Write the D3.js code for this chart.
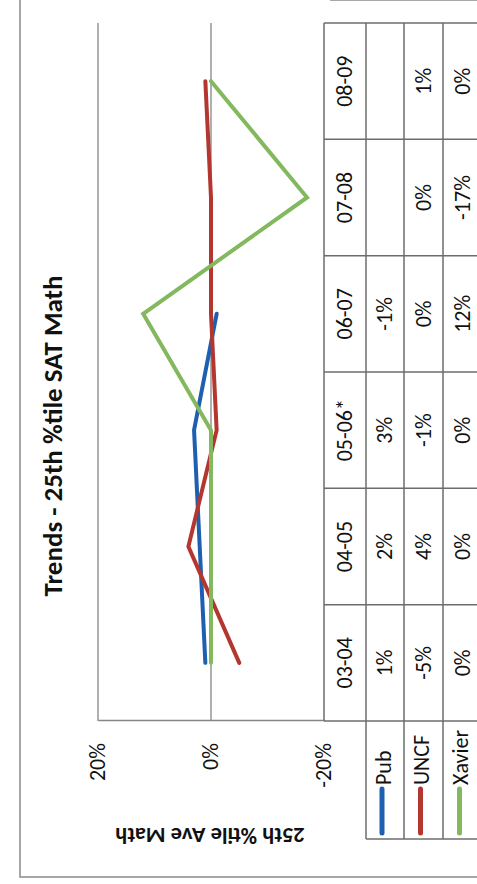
<!DOCTYPE html>
<html>
<head>
<meta charset="utf-8">
<script src="https://cdn.jsdelivr.net/npm/d3@7"></script>
<style>
  html, body { margin: 0; padding: 0; background: #fff; }
  svg { display: block; }
  text { font-family: Carlito, Lato, "Liberation Sans", sans-serif; fill: #111; }
</style>
</head>
<body>
<div id="chart"></div>
<script>
// ---------- data ----------
const categories = ["03-04", "04-05", "05-06*", "06-07", "07-08", "08-09"];
const seriesNames = ["Pub", "UNCF", "Xavier"];
const pubValues = [1, 2, 3, -1, null, null];
const uncfValues = [-5, 4, -1, 0, 0, 1];
const xavierValues = [0, 0, 0, 12, -17, 0];
const seriesColors = ["#1f5fb0", "#b3372f", "#84b85e"];
const tickValues = [-20, 0, 20];
const titleText = "Trends - 25th %tile SAT Math";
const axisTitleText = "25th %tile Ave Math";

const seriesValues = [pubValues, uncfValues, xavierValues];

// ---------- canvas (chart drawn in its own orientation, then rotated -90°) ----------
const W = 477, H = 884;
const svg = d3.select("#chart").append("svg").attr("width", W).attr("height", H);
// original coords: u = horizontal (0..884), v = vertical (0..477)
const g = svg.append("g").attr("transform", `translate(0,${H}) rotate(-90)`);

const gridColor = "#858585";
const tableColor = "#6c6c6c";
const fs = 22;

// scales
const x = d3.scaleBand().domain(categories).range([163, 861]).padding(0);
const y = d3.scaleLinear().domain([-20, 20]).range([324, 98]);
const cx = c => x(c) + x.bandwidth() / 2;

// outer border
g.append("path")
  .attr("d", `M884,20 L7,20 L7,480 M884,330 L884,480`)
  .attr("fill", "none").attr("stroke", "#8a8a8a").attr("stroke-width", 1.5);

// gridlines
g.append("g").selectAll("line").data(tickValues.filter(t => t !== -20)).join("line")
  .attr("x1", 163).attr("x2", 861)
  .attr("y1", d => y(d)).attr("y2", d => y(d))
  .attr("stroke", gridColor).attr("stroke-width", 1.3);

// value axis
const yAxis = d3.axisLeft(y).tickValues(tickValues).tickSize(0).tickSizeOuter(0).tickPadding(22)
  .tickFormat(d => d + "%");
const ag = g.append("g").attr("transform", "translate(163,0)").call(yAxis);
ag.select(".domain").attr("stroke", gridColor).attr("stroke-width", 1.5);
ag.selectAll("text").attr("font-size", fs).attr("font-family", "Carlito, Lato, sans-serif")
  .attr("fill", "#111").attr("dy", "0.3em");

// title
g.append("text").attr("x", 448).attr("y", 62).attr("text-anchor", "middle")
  .attr("font-size", 27).attr("font-weight", "bold").text(titleText);

// axis title (rotated in original chart)
g.append("text").attr("transform", "translate(56,210) rotate(-90)")
  .attr("text-anchor", "middle").attr("font-size", 22.5).attr("font-weight", "bold")
  .text(axisTitleText);

// ---------- data table ----------
const rowEdges = [324, 366, 404, 443, 482];
const tbl = g.append("g").attr("stroke", tableColor).attr("stroke-width", 1.5);
rowEdges.forEach((v, i) => {
  tbl.append("line").attr("x1", i === 0 ? 163 : 45).attr("x2", 861).attr("y1", v).attr("y2", v);
});
const colEdges = categories.map(c => x(c)).concat([x.range()[1]]);
colEdges.forEach(u => {
  tbl.append("line").attr("x1", u).attr("x2", u).attr("y1", 324).attr("y2", 482);
});
tbl.append("line").attr("x1", 45).attr("x2", 45).attr("y1", 366).attr("y2", 482);

// category labels
g.append("g").selectAll("text").data(categories).join("text")
  .attr("x", d => cx(d)).attr("y", 352).attr("text-anchor", "middle")
  .attr("font-size", fs).text(d => d);

// series rows
seriesNames.forEach((name, si) => {
  const rc = (rowEdges[si + 1] + rowEdges[si + 2]) / 2;
  g.append("line").attr("x1", 51).attr("x2", 95).attr("y1", rc - 3).attr("y2", rc - 3)
    .attr("stroke", seriesColors[si]).attr("stroke-width", 5).attr("stroke-linecap", "round");
  g.append("text").attr("x", 99).attr("y", rc + 5.5).attr("font-size", fs).text(name);
  g.append("g").selectAll("text").data(seriesValues[si]).join("text")
    .attr("x", (d, i) => cx(categories[i])).attr("y", rc + 7)
    .attr("text-anchor", "middle").attr("font-size", fs)
    .text(d => d == null ? "" : d + "%");
});

// ---------- lines ----------
const line = d3.line()
  .defined(d => d != null)
  .x((d, i) => cx(categories[i]))
  .y(d => y(d));
seriesValues.forEach((vals, si) => {
  g.append("path").datum(vals).attr("d", line)
    .attr("fill", "none").attr("stroke", seriesColors[si]).attr("stroke-width", 4)
    .attr("stroke-linecap", "round").attr("stroke-linejoin", "miter");
});
</script>
</body>
</html>
